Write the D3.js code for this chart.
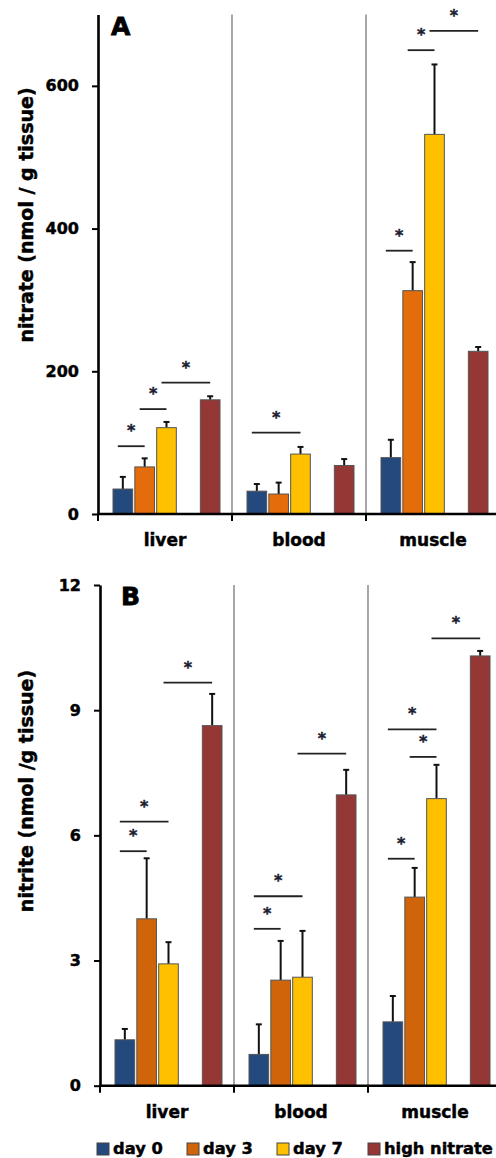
<!DOCTYPE html>
<html>
<head>
<meta charset="utf-8">
<script src="https://cdn.jsdelivr.net/npm/d3@7"></script>
<style>
  body { margin: 0; background: #fff; }
  text { font-family: "DejaVu Sans", "Liberation Sans", sans-serif; font-weight: bold; stroke: currentColor; stroke-width: 0.45px; }
</style>
</head>
<body>
<svg id="chart" width="496" height="1158"></svg>
<script>
// tissues and series
var groups = ["liver", "blood", "muscle"];
var series = ["day 0", "day 3", "day 7", "high nitrate"];
var slots = ["day 0", "day 3", "day 7", "", "high nitrate"];

// panel A: nitrate, nmol / g tissue (rows = tissue, cols = series)
var nitrateMean = [[35, 66, 121, 160], [32, 28, 84, 68], [79, 313, 532, 228]];
var nitrateErr = [[17, 12, 8, 5], [10, 16, 10, 9], [25, 40, 98, 6]];
// significance bars: [tissue, from series, to series, level]
var nitrateSig = [[0, 0, 1, 95], [0, 1, 2, 147], [0, 2, 3, 184], [1, 0, 2, 114],
                  [2, 0, 1, 369], [2, 1, 2, 650], [2, 2, 3, 677]];
var nitrateTicks = [0, 200, 400, 600];

// panel B: nitrite, nmol / g tissue
var nitriteMean = [[1.1, 4.0, 2.92, 8.63], [0.75, 2.53, 2.6, 6.97], [1.53, 4.52, 6.88, 10.3]];
var nitriteErr = [[0.26, 1.45, 0.52, 0.76], [0.72, 0.94, 1.11, 0.6], [0.62, 0.7, 0.81, 0.12]];
var nitriteSig = [[0, 0, 2, 6.33], [0, 0, 1, 5.62], [0, 2, 3, 9.66],
                  [1, 0, 2, 4.54], [1, 0, 1, 3.76], [1, 2, 3, 7.96],
                  [2, 0, 2, 8.54], [2, 1, 2, 7.88], [2, 2, 3, 10.72], [2, 0, 1, 5.44]];
var nitriteTicks = [0, 3, 6, 9, 12];

var svg = d3.select("#chart");

function drawPanel(opt) {
    var g = svg.append("g");
    var x = d3.scaleBand().domain(groups).range([opt.left, opt.left + 402]);
    var xs = d3.scaleBand().domain(slots).range([15, 122]).paddingInner(0.1);
    var y = d3.scaleLinear().domain(opt.domain).range([opt.bottom, opt.top]);
    var colors = opt.colors;

    function cx(gi, si) {
        return x(groups[gi]) + xs(series[si]) + xs.bandwidth() / 2;
    }

    // dividers between tissues
    g.selectAll(".divider")
        .data(groups.slice(1))
        .enter().append("line")
        .attr("x1", function (d) { return x(d); })
        .attr("x2", function (d) { return x(d); })
        .attr("y1", y(opt.domain[1]))
        .attr("y2", y(0))
        .attr("stroke", "#777")
        .attr("stroke-width", 1.3);

    // bars
    var cells = [];
    groups.forEach(function (grp, gi) {
        series.forEach(function (s, si) {
            cells.push({ gi: gi, si: si, v: opt.mean[gi][si], e: opt.err[gi][si] });
        });
    });

    // error bars (upper only)
    var eb = g.selectAll(".err").data(cells).enter().append("g")
        .attr("stroke", "#111").attr("stroke-width", 2);
    eb.append("line")
        .attr("x1", function (d) { return cx(d.gi, d.si); })
        .attr("x2", function (d) { return cx(d.gi, d.si); })
        .attr("y1", function (d) { return y(d.v); })
        .attr("y2", function (d) { return y(d.v + d.e); });
    eb.append("line")
        .attr("x1", function (d) { return cx(d.gi, d.si) - 3; })
        .attr("x2", function (d) { return cx(d.gi, d.si) + 3; })
        .attr("y1", function (d) { return y(d.v + d.e); })
        .attr("y2", function (d) { return y(d.v + d.e); });

    g.selectAll(".bar").data(cells).enter().append("rect")
        .attr("x", function (d) { return x(groups[d.gi]) + xs(series[d.si]); })
        .attr("width", xs.bandwidth())
        .attr("y", function (d) { return y(d.v); })
        .attr("height", function (d) { return y(0) - y(d.v); })
        .attr("fill", function (d) { return colors[d.si]; })
        .attr("stroke", "#555")
        .attr("stroke-width", 1);

    // significance markers
    var sg = g.selectAll(".sig").data(opt.sig).enter().append("g");
    sg.append("line")
        .attr("x1", function (d) { return cx(d[0], d[1]) - 5; })
        .attr("x2", function (d) { return cx(d[0], d[2]); })
        .attr("y1", function (d) { return y(d[3]); })
        .attr("y2", function (d) { return y(d[3]); })
        .attr("stroke", "#222")
        .attr("stroke-width", 1.8);
    sg.append("text")
        .attr("x", function (d) { return (cx(d[0], d[1]) - 5 + cx(d[0], d[2])) / 2; })
        .attr("y", function (d) { return y(d[3]) - 10; })
        .attr("text-anchor", "middle")
        .style("font-size", "16px")
        .style("color", "#1c1c30")
        .attr("fill", "#1c1c30")
        .text("*");

    // y axis
    var ya = g.append("g")
        .attr("transform", "translate(" + opt.left + ",0)")
        .call(d3.axisLeft(y).tickValues(opt.ticks).tickSize(6).tickSizeOuter(0).tickPadding(13));
    ya.select(".domain").attr("stroke", "#000").attr("stroke-width", 2.6);
    ya.selectAll(".tick line").attr("stroke", "#000").attr("stroke-width", 2);
    ya.selectAll(".tick text")
        .style("font-family", "DejaVu Sans")
        .style("font-weight", "bold")
        .style("font-size", "16px")
        .style("color", "#000")
        .attr("fill", "#000");

    // x axis line and tissue ticks
    g.append("line")
        .attr("x1", opt.left - 1).attr("x2", 496)
        .attr("y1", y(0)).attr("y2", y(0))
        .attr("stroke", "#000").attr("stroke-width", 2.6);
    g.selectAll(".xtick").data(groups).enter().append("line")
        .attr("x1", function (d) { return x(d); })
        .attr("x2", function (d) { return x(d); })
        .attr("y1", y(0))
        .attr("y2", y(0) + 7)
        .attr("stroke", "#000").attr("stroke-width", 2);
    g.selectAll(".xlab").data(groups).enter().append("text")
        .attr("x", function (d) { return x(d) + x.bandwidth() / 2; })
        .attr("y", y(0) + 32)
        .attr("text-anchor", "middle")
        .style("font-size", "17px")
        .text(function (d) { return d; });

    // axis title
    g.append("text")
        .attr("transform", "translate(33," + opt.titleY + ") rotate(-90)")
        .attr("text-anchor", "middle")
        .style("font-size", "19px")
        .text(opt.title);

    // panel letter
    g.append("text")
        .attr("x", opt.letterX)
        .attr("y", y(opt.domain[1]) + 20)
        .style("font-size", "25px")
        .style("stroke-width", "0.8px")
        .text(opt.letter);
}

drawPanel({
    left: 98, top: 14.5, bottom: 514, domain: [0, 700], ticks: nitrateTicks,
    mean: nitrateMean, err: nitrateErr, sig: nitrateSig,
    colors: ["#23497d", "#e46c0a", "#ffc000", "#953735"],
    title: "nitrate (nmol / g tissue)", titleY: 215, letter: "A", letterX: 111
});

drawPanel({
    left: 100, top: 585, bottom: 1085.7, domain: [0, 12], ticks: nitriteTicks,
    mean: nitriteMean, err: nitriteErr, sig: nitriteSig,
    colors: ["#23497d", "#d0640a", "#ffc000", "#953735"],
    title: "nitrite (nmol /g tissue)", titleY: 791, letter: "B", letterX: 121
});

// legend
var legendX = [97, 187, 277, 368];
var legendColors = ["#23497d", "#d0640a", "#ffc000", "#953735"];
var legend = svg.selectAll(".legend")
    .data(series)
    .enter().append("g")
    .attr("transform", function (d, i) { return "translate(" + legendX[i] + ",1143)"; });
legend.append("rect")
    .attr("width", 12)
    .attr("height", 12)
    .attr("fill", function (d, i) { return legendColors[i]; })
    .attr("stroke", "#444");
legend.append("text")
    .attr("x", 16)
    .attr("y", 11)
    .style("font-size", "16.3px")
    .text(function (d) { return d; });
</script>
</body>
</html>
